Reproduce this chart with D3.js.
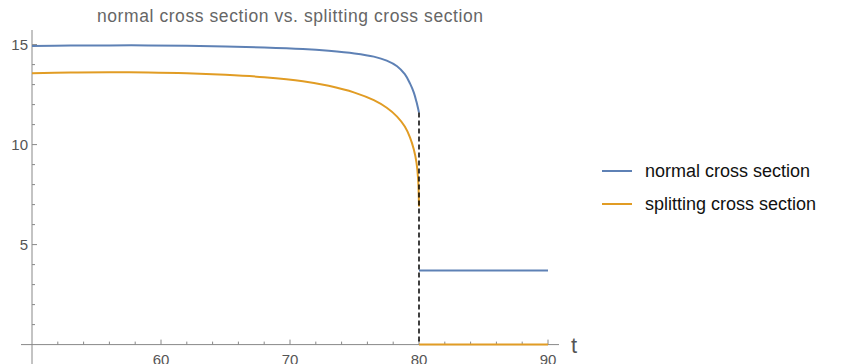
<!DOCTYPE html>
<meta charset='utf-8'>
<style>
    body { margin: 0; background: #fff; }
    text { font-family: 'Liberation Sans', Arial, sans-serif; }
</style>
<body>
<script src='https://d3js.org/d3.v7.min.js'></script>
<script>
    var width = 842,
        height = 364;

    // curve before the drop (t < 80)
    var tBefore = [50, 53, 56, 59, 62, 65, 68, 71, 73, 75, 76.5, 77.5, 78.3, 78.9, 79.3, 79.6, 79.8, 79.93, 80];
    var normalBefore = [14.93, 14.95, 14.96, 14.96, 14.94, 14.91, 14.86, 14.78, 14.69, 14.56, 14.4, 14.2, 13.92, 13.52, 13.06, 12.6, 12.15, 11.8, 11.6];
    var splittingBefore = [13.57, 13.6, 13.62, 13.61, 13.57, 13.49, 13.37, 13.17, 12.94, 12.6, 12.22, 11.84, 11.4, 10.9, 10.36, 9.75, 9.12, 8.3, 6.9];

    // after the drop (t >= 80)
    var tAfter = [80, 90];
    var normalAfter = [3.7, 3.7];
    var splittingAfter = [0, 0];

    var dropT = 80;
    var xMajor = [60, 70, 80, 90];
    var yMajor = [5, 10, 15];
    var seriesNames = ['normal cross section', 'splitting cross section'];
    var colors = ['#5e81b5', '#e19c24'];

    var x = d3.scaleLinear().domain([50, 90]).range([32, 548]);
    var y = d3.scaleLinear().domain([0, 15]).range([344.6, 44.6]);

    var svg = d3.select('body').append('svg')
        .attr('width', width)
        .attr('height', height);

    var axisColor = '#888';
    var labelColor = '#555';

    // x axis
    svg.append('line')
        .attr('x1', 21).attr('x2', 559)
        .attr('y1', y(0)).attr('y2', y(0))
        .attr('stroke', axisColor).attr('stroke-width', 1);
    var xMinor = d3.range(52, 90.1, 2).filter(function(d) { return d % 10 !== 0; });
    svg.selectAll('.xminor').data(xMinor).enter().append('line')
        .attr('x1', function(d) { return x(d); }).attr('x2', function(d) { return x(d); })
        .attr('y1', y(0)).attr('y2', y(0) - 3)
        .attr('stroke', axisColor);
    svg.selectAll('.xmajor').data(xMajor).enter().append('line')
        .attr('x1', function(d) { return x(d); }).attr('x2', function(d) { return x(d); })
        .attr('y1', y(0)).attr('y2', y(0) - 5)
        .attr('stroke', axisColor);
    svg.selectAll('.xlab').data(xMajor).enter().append('text')
        .attr('x', function(d) { return x(d); })
        .attr('y', y(0) + 20)
        .attr('text-anchor', 'middle')
        .attr('font-size', 15)
        .attr('fill', labelColor)
        .text(function(d) { return d; });
    svg.append('text')
        .attr('x', 571).attr('y', 353)
        .attr('font-size', 22)
        .attr('fill', labelColor)
        .text('t');

    // y axis
    svg.append('line')
        .attr('x1', x(50)).attr('x2', x(50))
        .attr('y1', 30).attr('y2', 364)
        .attr('stroke', axisColor).attr('stroke-width', 1);
    var yMinor = d3.range(1, 15.1, 1).filter(function(d) { return d % 5 !== 0; });
    svg.selectAll('.yminor').data(yMinor).enter().append('line')
        .attr('x1', x(50)).attr('x2', x(50) + 3)
        .attr('y1', function(d) { return y(d); }).attr('y2', function(d) { return y(d); })
        .attr('stroke', axisColor);
    svg.selectAll('.ymajor').data(yMajor).enter().append('line')
        .attr('x1', x(50)).attr('x2', x(50) + 5)
        .attr('y1', function(d) { return y(d); }).attr('y2', function(d) { return y(d); })
        .attr('stroke', axisColor);
    svg.selectAll('.ylab').data(yMajor).enter().append('text')
        .attr('x', x(50) - 4)
        .attr('y', function(d) { return y(d) + 5; })
        .attr('text-anchor', 'end')
        .attr('font-size', 15)
        .attr('fill', labelColor)
        .text(function(d) { return d; });

    // title
    svg.append('text')
        .attr('x', 97).attr('y', 22)
        .attr('font-size', 17.5)
        .attr('textLength', 386)
        .attr('lengthAdjust', 'spacing')
        .attr('fill', '#666')
        .text('normal cross section vs. splitting cross section');

    var line = d3.line()
        .x(function(d) { return x(d[0]); })
        .y(function(d) { return y(d[1]); })
        .curve(d3.curveCatmullRom.alpha(0.5));

    function pairs(ts, vs) {
        return ts.map(function(t, i) { return [t, vs[i]]; });
    }

    var segments = [
        { c: 0, d: pairs(tBefore, normalBefore) },
        { c: 1, d: pairs(tBefore, splittingBefore) },
        { c: 0, d: pairs(tAfter, normalAfter) },
        { c: 1, d: pairs(tAfter, splittingAfter) }
    ];

    svg.selectAll('.series').data(segments).enter().append('path')
        .attr('d', function(s) { return line(s.d); })
        .attr('fill', 'none')
        .attr('stroke', function(s) { return colors[s.c]; })
        .attr('stroke-width', 2);

    // dashed drop line
    svg.append('line')
        .attr('x1', x(dropT)).attr('x2', x(dropT))
        .attr('y1', y(normalBefore[normalBefore.length - 1])).attr('y2', y(0))
        .attr('stroke', '#000')
        .attr('stroke-width', 1.5)
        .attr('stroke-dasharray', '5,3');

    // legend
    var legend = svg.selectAll('.legend').data(seriesNames).enter().append('g')
        .attr('transform', function(d, i) { return 'translate(602,' + (171 + i * 33) + ')'; });
    legend.append('line')
        .attr('x1', 0).attr('x2', 30)
        .attr('stroke', function(d, i) { return colors[i]; })
        .attr('stroke-width', 2);
    legend.append('text')
        .attr('x', 43).attr('y', 6)
        .attr('font-size', 18)
        .attr('fill', '#111')
        .text(function(d) { return d; });
</script>
</body>
